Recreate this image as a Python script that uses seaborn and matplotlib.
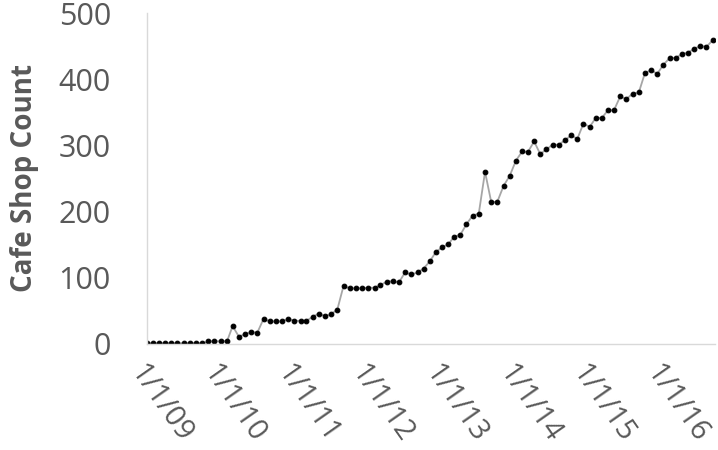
import matplotlib
matplotlib.use('Agg')
import matplotlib.pyplot as plt
import matplotlib.dates as mdates
import pandas as pd
import seaborn as sns

# 月度咖啡店数量，2009-01 至 2016-09
start_month = '2009-01-01'
shop_counts = [
    1, 1, 1, 1, 1, 1, 1, 1, 1, 1, 4, 4,
    4, 4, 27, 11, 15, 18, 17, 38, 34, 34, 34, 38,
    35, 35, 35, 41, 46, 42, 45, 52, 88, 84, 84, 84,
    85, 85, 89, 94, 95, 93, 108, 105, 108, 114, 125, 139,
    146, 151, 162, 165, 181, 194, 197, 260, 214, 215, 239, 254,
    277, 291, 290, 306, 287, 294, 301, 301, 308, 315, 310, 333,
    328, 342, 341, 353, 353, 374, 370, 378, 380, 409, 414, 408,
    422, 432, 432, 438, 440, 446, 450, 449, 459,
]
y_ticks = [0, 100, 200, 300, 400, 500]
y_label = 'Cafe Shop Count'

dates = pd.date_range(start_month, periods=len(shop_counts), freq='MS')
df = pd.DataFrame({'date': dates, 'count': shop_counts})

sns.set_style('white')
plt.rcParams['font.family'] = ['Open Sans', 'DejaVu Sans']

text_gray = '#595959'
axis_gray = '#d9d9d9'

fig = plt.figure(figsize=(7.18, 4.5), dpi=100)
ax = fig.add_axes([0.2047, 0.2356, 0.7911, 0.7355])

sns.lineplot(data=df, x='date', y='count', ax=ax, color='#a6a6a6',
             linewidth=1.3, marker='o', markersize=3.4,
             markerfacecolor='black', markeredgecolor='black')

ax.set_ylim(0, 500)
ax.set_yticks(y_ticks)
ax.set_xlim(pd.Timestamp('2009-01-01'), pd.Timestamp('2016-09-12'))
ax.xaxis.set_major_locator(mdates.YearLocator())
ax.xaxis.set_major_formatter(
    plt.FuncFormatter(lambda v, p: (lambda d: f'{d.month}/{d.day}/{d:%y}')(mdates.num2date(v))))

for side in ['top', 'right']:
    ax.spines[side].set_visible(False)
for side in ['left', 'bottom']:
    ax.spines[side].set_color(axis_gray)
    ax.spines[side].set_linewidth(1.0)

ax.tick_params(axis='y', length=7, color=axis_gray, labelsize=22,
               labelcolor=text_gray, pad=19)
ax.tick_params(axis='x', length=6, color=axis_gray, labelsize=21,
               labelcolor=text_gray, pad=5, direction='out')
for lbl in ax.get_xticklabels():
    lbl.set_rotation(-55)
    lbl.set_ha('left')
    lbl.set_va('top')
    lbl.set_rotation_mode('anchor')

ax.set_xlabel('')
ax.set_ylabel(y_label, fontsize=20, fontweight='bold', color=text_gray, labelpad=14)

fig.savefig('out.png', dpi=100)
plt.close(fig)
